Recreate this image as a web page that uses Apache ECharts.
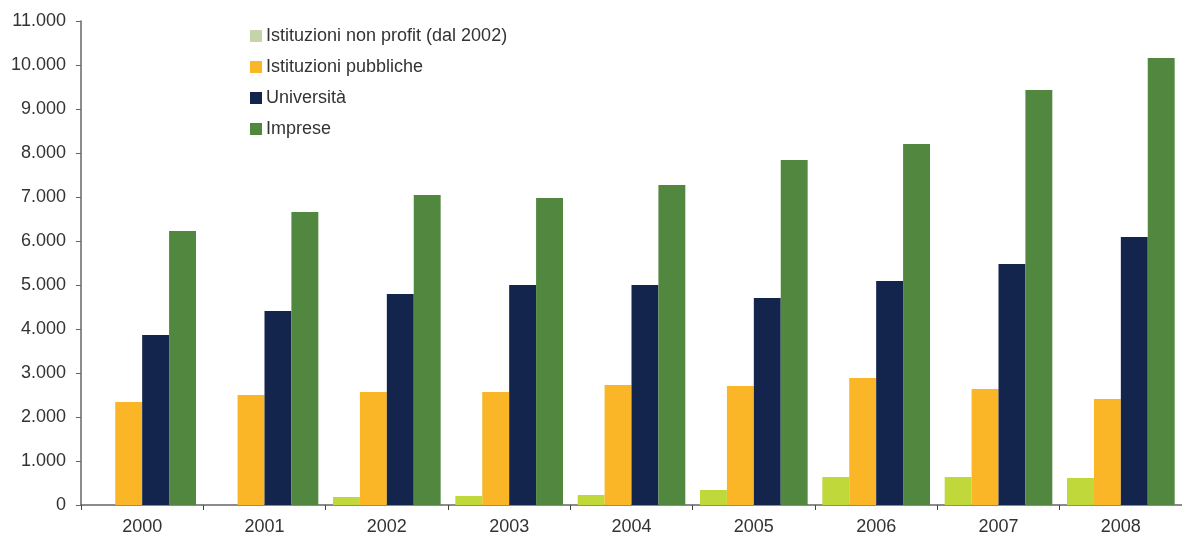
<!DOCTYPE html>
<html><head><meta charset="utf-8">
<script src="https://cdn.jsdelivr.net/npm/echarts@6/dist/echarts.min.js"></script>
<style>html,body{margin:0;padding:0;background:#fff}#c{width:1182px;height:540px}</style>
</head><body><div id="c"></div>
<script>
const years = ['2000','2001','2002','2003','2004','2005','2006','2007','2008'];
const nonProfit = [null, null, 182, 205, 227, 341, 636, 636, 614];
const pubbliche = [2341, 2500, 2568, 2568, 2727, 2705, 2886, 2636, 2409];
const universita = [3864, 4409, 4795, 5000, 5000, 4705, 5091, 5477, 6091];
const imprese = [6227, 6659, 7045, 6977, 7273, 7841, 8205, 9432, 10159];
const seriesNames = ['Istituzioni non profit (dal 2002)', 'Istituzioni pubbliche', 'Università', 'Imprese'];

function fmt(v){ return String(v).replace(/\B(?=(\d{3})+(?!\d))/g, '.'); }

const chart = echarts.init(document.getElementById('c'), null, {renderer:'canvas'});
const font = 'Liberation Sans, Arial, sans-serif';
const colors = ['#c0d83a', '#fbb627', '#13254d', '#52873f'];
const datas = [nonProfit, pubbliche, universita, imprese];
chart.setOption({
  animation: false,
  textStyle: {fontFamily: font},
  grid: {left: 81, right: 0, top: 21, bottom: 35},
  legend: {
    orient: 'vertical', left: 245, top: 22,
    icon: 'rect',
    itemWidth: 12, itemHeight: 12, itemGap: 13,
    textStyle: {fontSize: 18, color: '#333', fontFamily: font, padding: [0, 0, 0, -1]},
    data: [
      {name: seriesNames[0], itemStyle: {color: '#c3d5a8'}},
      {name: seriesNames[1]},
      {name: seriesNames[2]},
      {name: seriesNames[3]}
    ]
  },
  xAxis: {
    type: 'category', data: years,
    axisLine: {lineStyle: {color: '#666', width: 1.5}},
    axisTick: {show: true, alignWithLabel: false, length: 5, lineStyle: {color: '#444'}},
    axisLabel: {fontSize: 18, color: '#333', margin: 13, fontFamily: font}
  },
  yAxis: {
    type: 'value', min: 0, max: 11000, interval: 1000,
    axisLine: {show: true, lineStyle: {color: '#666', width: 1.5}},
    axisTick: {show: true, length: 5, lineStyle: {color: '#666'}},
    splitLine: {show: false},
    axisLabel: {fontSize: 18, color: '#333', margin: 15, fontFamily: font, formatter: fmt}
  },
  series: seriesNames.map((n, i) => ({
    name: n, type: 'bar', data: datas[i],
    itemStyle: {color: colors[i]},
    barGap: '0%', barCategoryGap: '12%'
  }))
});
</script></body></html>
